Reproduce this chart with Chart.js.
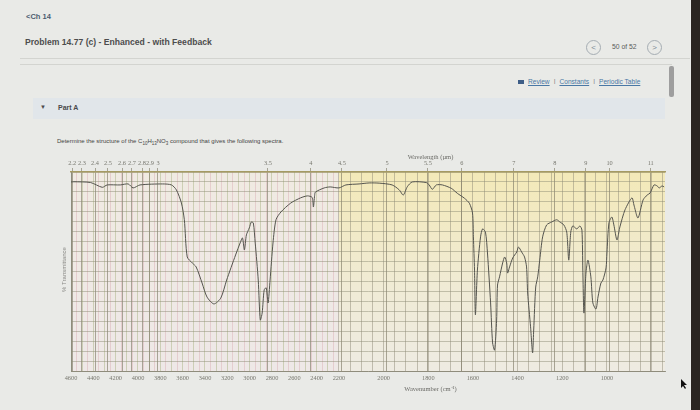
<!DOCTYPE html>
<html>
<head>
<meta charset="utf-8">
<script src="https://cdn.jsdelivr.net/npm/chart.js@4.4.1/dist/chart.umd.min.js"></script>
<style>
  body { margin: 0; width: 700px; height: 410px; overflow: hidden; position: relative;
         background: #e9eae7; font-family: Arial, "Liberation Sans", sans-serif; }
  .abs { position: absolute; white-space: nowrap; }
  #crumb { left: 26px; top: 12px; font-size: 7.5px; font-weight: bold; color: #4b5d70; }
  #title { left: 25px; top: 37px; font-size: 8.6px; font-weight: bold; color: #4d4d4d; }
  .rule { position: absolute; height: 1px; background: #d3d4d0; }
  .circ { position: absolute; width: 13px; height: 13px; border: 1px solid #a5adb3; border-radius: 50%;
          font-size: 8px; line-height: 13px; text-align: center; color: #7d8b96; }
  #count { left: 612px; top: 43px; font-size: 6.8px; color: #5a5a5a; }
  #links { left: 518px; top: 78px; font-size: 6.6px; color: #4a78a5; }
  #links u { text-decoration: underline; }
  #links .sep { color: #888; margin: 0 4px; }
  #book { display: inline-block; width: 6px; height: 4px; background: #3d5d86; margin-right: 4px; }
  #partA { left: 33px; top: 98px; width: 632px; height: 21px; background: #e1e6ea; }
  #partA span { position: absolute; top: 6px; font-size: 7px; font-weight: bold; color: #4a4a4a; }
  #task { left: 57px; top: 138px; font-size: 6px; color: #444; }
  #task sub { font-size: 4.5px; }
  #scroll { left: 669px; top: 66px; width: 5px; height: 31px; background: #9e9e9e; border-radius: 2px; }
  #bezel { left: 691px; top: 0; width: 9px; height: 410px; background: #2a2521; }
  #irChart { position: absolute; left: 30px; top: 145px; }
</style>
</head>
<body>
<div class="abs" id="crumb">&lt;Ch 14</div>
<div class="abs" id="title">Problem 14.77 (c) - Enhanced - with Feedback</div>
<div class="rule" style="left:20px; top:58px; width:670px;"></div>
<div class="circ" style="left:586px; top:40px;">&lt;</div>
<div class="abs" id="count">50 of 52</div>
<div class="circ" style="left:647px; top:40px;">&gt;</div>
<div class="rule" style="left:20px; top:64px; width:652px;"></div>
<div class="abs" id="links"><span id="book"></span><u>Review</u><span class="sep">I</span><u>Constants</u><span class="sep">I</span><u>Periodic Table</u></div>
<div class="abs" id="scroll"></div>
<div class="abs" id="partA"><span style="left:7px; font-size:6px; top:6px; font-weight:normal;">&#9660;</span><span style="left:25px;">Part A</span></div>
<div class="abs" id="task">Determine the structure of the C<sub>10</sub>H<sub>13</sub>NO<sub>3</sub> compound that gives the following spectra.</div>
<canvas id="irChart" width="650" height="255"></canvas>
<svg class="abs" style="left:680px; top:379px;" width="8" height="11"><polygon points="1,0 1,9 3,7 5,10 6,9 4,6 7,6" fill="#111"/></svg>
<div class="abs" id="bezel"></div>

<script>
// spectrum (wavenumber in cm-1, % transmittance)
const wavenumbers = [4600, 4574, 4424, 4320, 4276, 4159, 4088, 4044, 3982, 3779, 3700, 3656, 3611, 3585, 3559, 3514, 3479,
  3426, 3382, 3320, 3258, 3206, 3126, 3082, 3064, 3047, 3029, 3003, 2985, 2967, 2950, 2923, 2905, 2888, 2870, 2852,
  2835, 2817, 2791, 2764, 2720, 2632, 2544, 2482, 2440, 2429, 2418, 2411, 2332, 2279, 2200, 2169, 2110, 2065, 2020,
  1962, 1930, 1912, 1894, 1872, 1809, 1796, 1782, 1764, 1737, 1697, 1670, 1638, 1616, 1602, 1598, 1593, 1589, 1580,
  1566, 1557, 1544, 1535, 1521, 1512, 1503, 1494, 1490, 1481, 1467, 1458, 1449, 1445, 1436, 1422, 1404, 1396, 1382,
  1369, 1360, 1355, 1342, 1333, 1328, 1319, 1310, 1301, 1288, 1270, 1247, 1225, 1211, 1193, 1180, 1171, 1162, 1153,
  1135, 1121, 1112, 1108, 1103, 1094, 1085, 1072, 1063, 1049, 1040, 1027, 1018, 1004, 1000, 991, 978, 969, 955, 942,
  919, 888, 879, 861, 838, 820, 807, 789, 775, 766, 753, 744];
const transmittance = [95.0, 95.1, 94.7, 92.3, 93.5, 93.5, 94.0, 92.0, 93.5, 94.0, 93.5, 91.0, 84.4, 76.0, 57.3, 54.3, 52.3,
  44.2, 37.2, 33.7, 36.7, 45.7, 58.3, 64.8, 66.9, 60.8, 68.4, 71.9, 74.9, 74.4, 64.3, 45.7, 25.6, 29.1, 40.7, 41.8,
  34.2, 45.7, 64.3, 76.0, 79.9, 84.4, 87.0, 88.0, 87.2, 82.4, 88.2, 89.9, 92.0, 92.5, 92.0, 93.5, 94.0, 94.5, 94.4,
  93.5, 91.0, 88.4, 92.6, 95.0, 94.7, 93.5, 91.3, 93.5, 93.5, 91.8, 89.3, 86.8, 84.3, 79.4, 67.4, 50.7, 28.2, 50.7,
  67.4, 71.4, 69.8, 59.3, 34.2, 14.1, 10.5, 25.6, 43.2, 47.3, 54.3, 57.3, 54.3, 49.2, 52.3, 56.8, 59.8, 62.3, 59.8,
  57.3, 52.3, 39.2, 22.2, 9.1, 20.6, 42.2, 47.3, 55.7, 67.4, 73.4, 74.9, 76.0, 74.9, 73.4, 69.8, 55.7, 69.8, 72.9,
  71.4, 72.9, 70.8, 50.7, 29.1, 49.2, 55.7, 47.3, 34.2, 31.1, 37.2, 44.2, 45.7, 51.8, 59.3, 74.4, 77.4, 73.4, 65.8, 72.4,
  81.0, 87.0, 83.4, 76.9, 86.0, 88.4, 89.4, 93.5, 93.0, 92.0, 93.0, 92.5];

const bottomTickLabels = [4600, 4400, 4200, 4000, 3800, 3600, 3400, 3200, 3000, 2800, 2600, 2400, 2200,
  2000, 1800, 1600, 1400, 1200, 1000];
const wavelengthLabels = ['2.2', '2.3', '2.4', '2.5', '2.6', '2.7', '2.8', '2.9', '3', '3.5', '4', '4.5',
  '5', '5.5', '6', '7', '8', '9', '10', '11'];
// where each wavelength tick sits on the wavenumber scale in the picture
const wavelengthAt = [4590, 4502, 4385, 4269, 4143, 4054, 3964, 3893, 3821, 2836, 2451, 2187,
  1985, 1802, 1650, 1417, 1233, 1095, 988, 804];

// the chart paper is compressed 2:1 above 2200 cm-1
const BREAK = 2200;
const WN_MAX = 4600, WN_MIN = 740;
function toAxis(wn) { return wn >= BREAK ? WN_MAX - wn : (WN_MAX - BREAK) + (BREAK - wn) * 2; }
function fromAxis(u) { return u <= WN_MAX - BREAK ? WN_MAX - u : BREAK - (u - (WN_MAX - BREAK)) / 2; }

const points = wavenumbers.map((w, i) => ({ x: toAxis(w), y: transmittance[i] }));

const paper = {
  id: 'paper',
  beforeDraw(chart) {
    const { ctx, chartArea: a, scales: { x } } = chart;
    const xb = x.getPixelForValue(toAxis(BREAK));
    ctx.save();
    let g = ctx.createLinearGradient(0, a.top, 0, a.bottom);
    g.addColorStop(0, '#f0eae2');
    g.addColorStop(1, '#eee8e7');
    ctx.fillStyle = g;
    ctx.fillRect(a.left, a.top, xb - a.left, a.bottom - a.top);
    g = ctx.createLinearGradient(0, a.top, 0, a.bottom);
    g.addColorStop(0, '#f3e9b8');
    g.addColorStop(0.6, '#f0ebd6');
    g.addColorStop(1, '#eeebe2');
    ctx.fillStyle = g;
    ctx.fillRect(xb, a.top, a.right - xb, a.bottom - a.top);
    ctx.restore();
  },
  afterDraw(chart) {
    const { ctx, chartArea: a, scales: { x } } = chart;
    const xt = x.getPixelForValue(toAxis(1790));
    ctx.save();
    ctx.fillStyle = '#6a6a66';
    ctx.font = '6.5px "Liberation Serif", serif';
    ctx.textAlign = 'center';
    ctx.textBaseline = 'middle';
    ctx.fillText('Wavelength (\u00b5m)', xt, a.top - 15);
    ctx.fillText('Wavenumber (cm\u207b\u00b9)', xt, a.bottom + 18);
    ctx.translate(a.left - 7, (a.top + a.bottom) / 2 - 2);
    ctx.rotate(-Math.PI / 2);
    ctx.font = '6px Arial, sans-serif';
    ctx.fillStyle = '#8a8a86';
    ctx.fillText('% Transmittance', 0, 0);
    ctx.restore();
  }
};

new Chart(document.getElementById('irChart'), {
  type: 'line',
  data: {
    datasets: [{
      data: points,
      borderColor: '#55554f',
      borderWidth: 1,
      pointRadius: 0,
      tension: 0.25,
      fill: false
    }]
  },
  options: {
    responsive: false,
    animation: false,
    parsing: false,
    layout: { padding: { left: 0, right: 15, top: 0, bottom: 0 } },
    plugins: { legend: { display: false }, tooltip: { enabled: false } },
    scales: {
      x: {
        type: 'linear',
        position: 'bottom',
        min: 0,
        max: toAxis(WN_MIN),
        afterBuildTicks: s => {
          const t = [];
          for (let w = WN_MAX; w >= 750; w -= 50) t.push({ value: toAxis(w) });
          s.ticks = t;
        },
        afterFit: s => { s.height = 29; },
        ticks: {
          autoSkip: false, maxRotation: 0, minRotation: 0, padding: 4,
          color: '#77776f', font: { size: 6.3, family: '"Liberation Serif", serif' },
          callback: v => {
            const w = Math.round(fromAxis(v));
            return bottomTickLabels.includes(w) ? String(w) : '';
          }
        },
        grid: {
          drawTicks: false,
          lineWidth: 0.8,
          color: c => {
            const w = Math.round(fromAxis(c.tick.value));
            if (w > BREAK) return w % 100 === 0 ? 'rgba(160,172,120,0.55)' : 'rgba(215,170,178,0.55)';
            return 'rgba(140,135,115,0.6)';
          }
        },
        border: { color: '#8f8c7c' }
      },
      x2: {
        type: 'linear',
        position: 'top',
        min: 0,
        max: toAxis(WN_MIN),
        afterBuildTicks: s => { s.ticks = wavelengthAt.map(w => ({ value: toAxis(w) })); },
        afterFit: s => { s.height = 27; },
        ticks: {
          autoSkip: false, maxRotation: 0, minRotation: 0, padding: 1,
          color: '#77776f', font: { size: 6.3, family: '"Liberation Serif", serif' },
          callback: (v, i) => wavelengthLabels[i]
        },
        grid: { color: 'rgba(120,115,95,0.6)', lineWidth: 1, tickLength: 4 },
        border: { color: '#a59a62', width: 1.5 }
      },
      y: {
        min: 0,
        max: 100,
        afterFit: s => { s.width = 41; },
        ticks: { stepSize: 5, display: false },
        grid: { color: 'rgba(140,140,115,0.6)', lineWidth: 0.8, drawTicks: false },
        border: { color: '#8f8c7c' }
      }
    }
  },
  plugins: [paper]
});
</script>
</body>
</html>
